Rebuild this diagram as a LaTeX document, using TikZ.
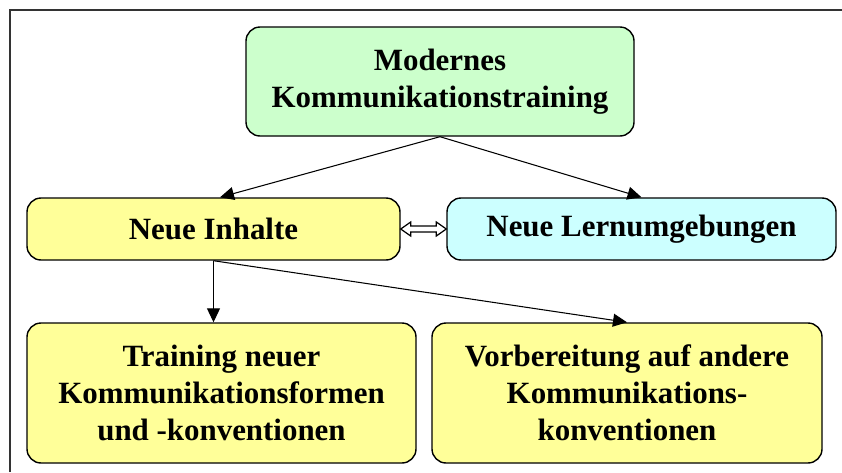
\documentclass[tikz,border=0pt]{standalone}
\usepackage{fontspec}
\setmainfont{Liberation Serif}
\usetikzlibrary{arrows.meta, positioning, calc}

\definecolor{boxgreen}{HTML}{CCFFCC}
\definecolor{boxyellow}{HTML}{FFFF99}
\definecolor{boxcyan}{HTML}{CCFFFF}

\begin{document}
\begin{tikzpicture}[font=\fontsize{17.6}{21}\selectfont\bfseries, box/.style={draw, line width=0.8pt, rounded corners=8pt, align=center, inner sep=0pt}, arr/.style={-{Triangle[length=2.8mm, width=2.6mm]}, line width=0.6pt}]
\useasboundingbox (0,0) rectangle (16.84,-9.44);
\draw[line width=0.9pt, black!80] (0.2,-9.44) -- (0.2,-0.2) -- (16.84,-0.2);
\node[box, fill=boxgreen, minimum width=7.76cm, minimum height=2.18cm] (top) at (8.8,-1.63) {Modernes\\Kommunikationstraining};
\node[box, fill=boxyellow, minimum width=7.46cm, minimum height=1.24cm] (inh) at (4.27,-4.58) {Neue Inhalte};
\node[box, fill=boxcyan, minimum width=7.78cm, minimum height=1.24cm] (lern) at (12.83,-4.58) {Neue Lernumgebungen};
\node[box, fill=boxyellow, minimum width=7.78cm, minimum height=2.8cm] (form) at (4.43,-7.86) {Training neuer\\Kommunikationsformen\\und -konventionen};
\node[box, fill=boxyellow, minimum width=7.8cm, minimum height=2.8cm] (vorb) at (12.54,-7.86) {Vorbereitung auf andere\\Kommunikations-\\konventionen};
\draw[arr] (top.south) -- ($(inh.north)+(0.13,0)$);
\draw[arr] (top.south) -- (lern.north);
\draw[arr] (inh.south) -- (inh.south |- form.north);
\draw[arr] (inh.south) -- (vorb.north);
\draw[line width=0.7pt, fill=white, line join=miter] (inh.east) -- ($(inh.east)+(0.2,0.14)$) -- ($(inh.east)+(0.2,0.06)$) -- ($(lern.west)+(-0.2,0.06)$) -- ($(lern.west)+(-0.2,0.14)$) -- (lern.west) -- ($(lern.west)+(-0.2,-0.14)$) -- ($(lern.west)+(-0.2,-0.06)$) -- ($(inh.east)+(0.2,-0.06)$) -- ($(inh.east)+(0.2,-0.14)$) -- cycle;
\end{tikzpicture}
\end{document}
